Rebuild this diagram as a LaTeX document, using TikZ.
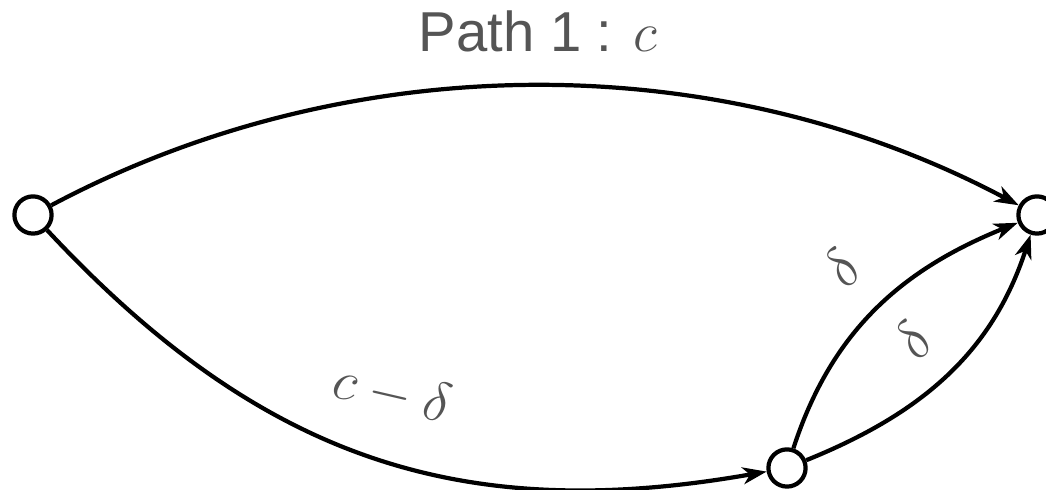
\RequirePackage{fix-cm}
\documentclass[tikz,border=0pt]{standalone}
\usepackage{fontspec}
\setmainfont{Liberation Sans}
\usetikzlibrary{arrows.meta}
\definecolor{cgrey}{HTML}{555555}
\tikzset{
  every picture/.style={line width=3pt},
  vertex/.style={circle, draw=black, fill=white, minimum size=0.93cm, inner sep=0pt},
  arrow/.style={-{Stealth[length=17pt, width=12pt, inset=5pt]}, draw=black},
  weight/.style={font=\fontsize{40}{48}\selectfont, text=cgrey, inner sep=0pt},
}

\begin{document}
\begin{tikzpicture}[x=0.025cm, y=0.025cm]
  \useasboundingbox (0,0) rectangle (1046,490);
  \node[vertex] (s) at (33,275) {};
  \node[vertex] (t) at (1037,275) {};
  \node[vertex] (m) at (787,22) {};
  \node[weight] (title) at (538,459) {Path 1 : $c$};
  \draw[arrow] (s) to[out=28, in=152, looseness=0.9] (t);
  \draw[arrow] (s) to[out=-47, in=190, looseness=1.05] (m);
  \draw[arrow] (m) to[out=72, in=202] (t);
  \draw[arrow] (m) to[out=22, in=252] (t);
  \node[weight, rotate=-13] (w1) at (392,97) {$c-\delta$};
  \node[weight, rotate=48] (w2) at (842,222) {$\delta$};
  \node[weight, rotate=50] (w3) at (913,150) {$\delta$};
\end{tikzpicture}
\end{document}
